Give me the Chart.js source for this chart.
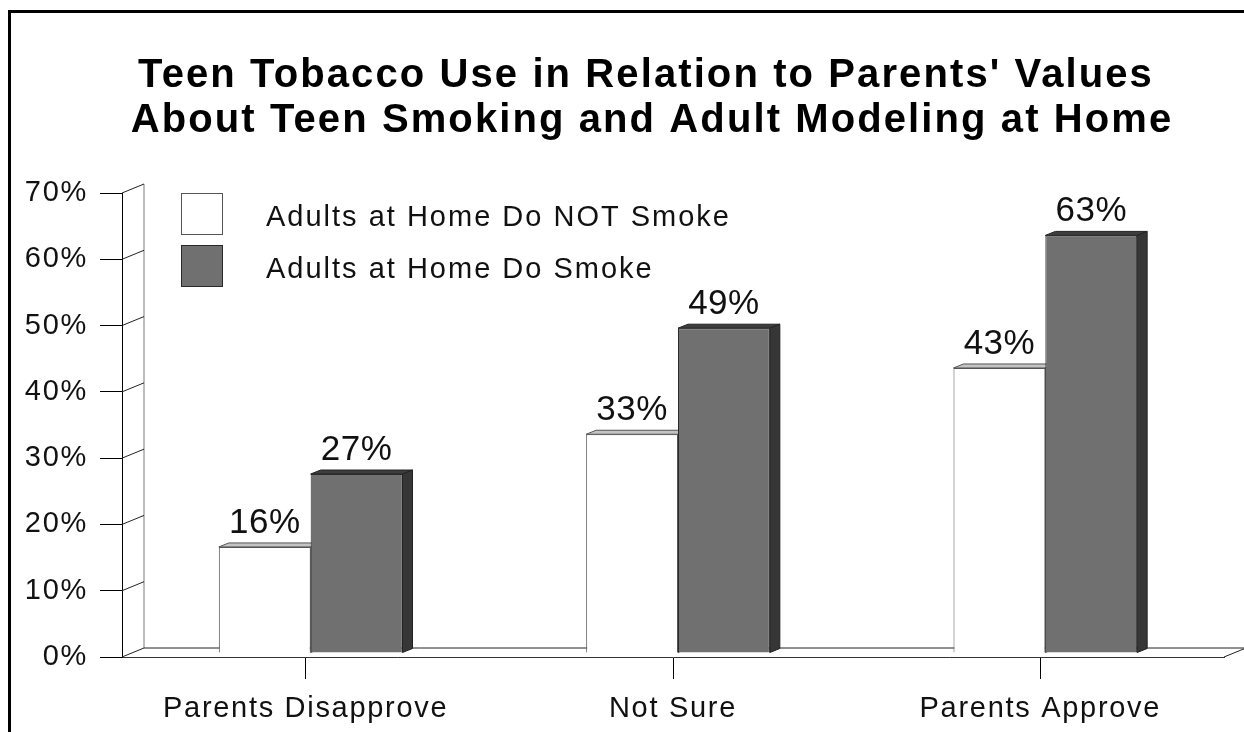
<!DOCTYPE html>
<html>
<head>
<meta charset="utf-8">
<title>Teen Tobacco Use</title>
<script src="https://cdn.jsdelivr.net/npm/chart.js@4.4.1/dist/chart.umd.min.js"></script>
<style>
    html, body { margin: 0; padding: 0; background: #fff; overflow: hidden; }
    #wrap { position: absolute; left: 0; top: 0; width: 1244px; height: 732px; overflow: hidden; }
    #frame { position: absolute; left: 8px; top: 10px; width: 1300px; height: 800px; border-left: 3px solid #000; border-top: 3px solid #000; }
    #chart { position: absolute; left: 0; top: 0; }
</style>
</head>
<body>
<div id="wrap">
    <div id="frame"></div>
    <canvas id="chart" width="1244" height="732"></canvas>
</div>
<script>
// chart data
var titleLines = ["Teen Tobacco Use in Relation to Parents' Values", "About Teen Smoking and Adult Modeling at Home"];
var categories = ['Parents Disapprove', 'Not Sure', 'Parents Approve'];
var seriesNames = ['Adults at Home Do NOT Smoke', 'Adults at Home Do Smoke'];
var notSmoke = [16, 33, 43];
var doSmoke = [27, 49, 63];
var yMax = 70;
var yStep = 10;

var FONT = '"Liberation Sans", Arial, Helvetica, sans-serif';

// 3d look: depth of the wall/floor, and of the bars
var WALL_DX = 22, WALL_DY = -9;
var BAR_SHIFT_X = 5, BAR_SHIFT_Y = -4;
var BAR_DX = 10, BAR_DY = -4;

var faceColors = [
    { top: '#c4c4c4', side: '#9a9a9a', line: '#555' },
    { top: '#3e3e3e', side: '#363636', line: '#222' }
];

var box3d = {
    id: 'box3d',
    beforeDraw: function (chart) {
        chart.ctx.letterSpacing = '1.7px';
    },
    beforeDatasetsDraw: function (chart) {
        var ctx = chart.ctx;
        var area = chart.chartArea;
        var yScale = chart.scales.y;

        ctx.save();
        ctx.lineWidth = 1;

        // back wall edge
        ctx.strokeStyle = '#7a7a7a';
        ctx.beginPath();
        ctx.moveTo(area.left + WALL_DX, area.bottom + WALL_DY);
        ctx.lineTo(area.left + WALL_DX, area.top + WALL_DY);
        ctx.stroke();

        // floor back edge and right side
        ctx.strokeStyle = '#222';
        ctx.beginPath();
        ctx.moveTo(area.left + WALL_DX, area.bottom + WALL_DY);
        ctx.lineTo(area.right + WALL_DX, area.bottom + WALL_DY);
        ctx.moveTo(area.right, area.bottom);
        ctx.lineTo(area.right + WALL_DX, area.bottom + WALL_DY);
        ctx.stroke();

        // side wall lines at each tick
        ctx.beginPath();
        yScale.ticks.forEach(function (t) {
            var py = yScale.getPixelForValue(t.value);
            ctx.moveTo(area.left, py);
            ctx.lineTo(area.left + WALL_DX, py + WALL_DY);
        });
        ctx.stroke();
        ctx.restore();

        // bar tops and sides, fronts are drawn by chart.js on top
        ctx.save();
        ctx.translate(BAR_SHIFT_X, BAR_SHIFT_Y);
        chart.data.datasets.forEach(function (ds, i) {
            var c = faceColors[i];
            chart.getDatasetMeta(i).data.forEach(function (bar) {
                var l = bar.x - bar.width / 2;
                var r = bar.x + bar.width / 2;
                var t = bar.y;
                var b = bar.base;
                ctx.strokeStyle = c.line;
                ctx.lineWidth = 1;

                ctx.fillStyle = c.top;
                ctx.beginPath();
                ctx.moveTo(l, t);
                ctx.lineTo(l + BAR_DX, t + BAR_DY);
                ctx.lineTo(r + BAR_DX, t + BAR_DY);
                ctx.lineTo(r, t);
                ctx.closePath();
                ctx.fill();
                ctx.stroke();

                ctx.fillStyle = c.side;
                ctx.beginPath();
                ctx.moveTo(r, t);
                ctx.lineTo(r + BAR_DX, t + BAR_DY);
                ctx.lineTo(r + BAR_DX, b + BAR_DY);
                ctx.lineTo(r, b);
                ctx.closePath();
                ctx.fill();
                ctx.stroke();
            });
        });
    },
    afterDatasetsDraw: function (chart) {
        var ctx = chart.ctx;
        ctx.restore();

        // value labels
        ctx.save();
        ctx.letterSpacing = '0.5px';
        ctx.font = '35px ' + FONT;
        ctx.fillStyle = '#111';
        ctx.textAlign = 'center';
        ctx.textBaseline = 'alphabetic';
        chart.data.datasets.forEach(function (ds, i) {
            chart.getDatasetMeta(i).data.forEach(function (bar, j) {
                ctx.fillText(ds.data[j] + '%', bar.x + BAR_SHIFT_X, bar.y + BAR_SHIFT_Y - 14);
            });
        });
        ctx.restore();
    },
    afterDraw: function (chart) {
        var ctx = chart.ctx;
        ctx.save();

        // title
        ctx.letterSpacing = '2.1px';
        ctx.font = 'bold 40px ' + FONT;
        ctx.fillStyle = '#000';
        ctx.textAlign = 'center';
        ctx.textBaseline = 'alphabetic';
        ctx.fillText(titleLines[0], 646, 87);
        ctx.fillText(titleLines[1], 652, 132);

        // legend
        ctx.letterSpacing = '2px';
        ctx.font = '29px ' + FONT;
        ctx.textAlign = 'left';
        chart.data.datasets.forEach(function (ds, i) {
            var top = 193 + i * 52;
            ctx.fillStyle = ds.backgroundColor;
            ctx.fillRect(181.5, top + 0.5, 41, 41);
            ctx.strokeStyle = ds.borderColor;
            ctx.lineWidth = 1;
            ctx.strokeRect(181.5, top + 0.5, 41, 41);
            ctx.fillStyle = '#111';
            ctx.fillText(ds.label, 266, top + 33);
        });
        ctx.restore();
    }
};

var chartEl = document.getElementById('chart');
var chart = new Chart(chartEl, {
    type: 'bar',
    data: {
        labels: categories,
        datasets: [{
            label: seriesNames[0],
            data: notSmoke,
            backgroundColor: '#ffffff',
            borderColor: '#555555',
            borderWidth: 1
        }, {
            label: seriesNames[1],
            data: doSmoke,
            backgroundColor: '#707070',
            borderColor: '#2a2a2a',
            borderWidth: 1
        }]
    },
    options: {
        responsive: false,
        animation: false,
        devicePixelRatio: 1,
        layout: {
            padding: { top: 193, right: 20, left: 0, bottom: 0 }
        },
        datasets: {
            bar: { categoryPercentage: 0.5, barPercentage: 1.0, clip: false }
        },
        plugins: {
            legend: { display: false },
            title: { display: false },
            tooltip: { enabled: false }
        },
        scales: {
            x: {
                grid: { offset: false, drawOnChartArea: false, drawTicks: true, tickLength: 22, color: '#000' },
                border: { display: true, color: '#333' },
                ticks: { font: { family: FONT, size: 29 }, color: '#111', padding: 13, maxRotation: 0 },
                afterFit: function (scale) { scale.height = 75; }
            },
            y: {
                min: 0,
                max: yMax,
                grid: { drawOnChartArea: false, drawTicks: true, tickLength: 22, color: '#000' },
                border: { display: true, color: '#000' },
                ticks: {
                    stepSize: yStep,
                    font: { family: FONT, size: 29 },
                    color: '#111',
                    padding: 12,
                    callback: function (v) { return v + '%'; }
                },
                afterFit: function (scale) { scale.width = 122; }
            }
        }
    },
    plugins: [box3d]
});
</script>
</body>
</html>
